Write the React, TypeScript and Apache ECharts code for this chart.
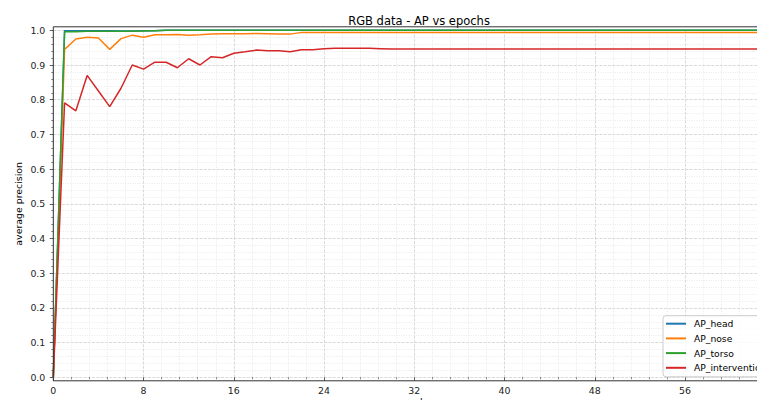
import React, { useEffect, useRef } from "react";
import * as echarts from "echarts";

const epochs: number[] = [
  0, 1, 2, 3, 4, 5, 6, 7, 8, 9, 10, 11, 12, 13, 14, 15, 16, 17, 18, 19, 20,
  21, 22, 23, 24, 25, 26, 27, 28, 29, 30, 31, 32, 33, 34, 35, 36, 37, 38, 39,
  40, 41, 42, 43, 44, 45, 46, 47, 48, 49, 50, 51, 52, 53, 54, 55, 56, 57, 58,
  59, 60, 61, 62, 63, 64,
];

const xTickLabels: string[] = ["0", "8", "16", "24", "32", "40", "48", "56"];

const apHead: number[] = [
  0, 0.999, 0.999, 0.999, 0.999, 0.999, 0.998, 0.998, 0.999, 0.999, 1.0,
  1.0, 1.0, 1.0, 1.0, 1.0, 1.0, 1.0, 1.0, 1.0, 1.0,
  1.0, 1.0, 1.0, 1.0, 1.0, 1.0, 1.0, 1.0, 1.0, 1.0,
  1.0, 1.0, 1.0, 1.0, 1.0, 1.0, 1.0, 1.0, 1.0, 1.0,
  1.0, 1.0, 1.0, 1.0, 1.0, 1.0, 1.0, 1.0, 1.0, 1.0,
  1.0, 1.0, 1.0, 1.0, 1.0, 1.0, 1.0, 1.0, 1.0, 1.0,
  1.0, 1.0, 1.0, 1.0,
];

const apNose: number[] = [
  0, 0.945, 0.975, 0.98, 0.978, 0.945, 0.976, 0.986, 0.98, 0.987, 0.987,
  0.988, 0.986, 0.987, 0.989, 0.99, 0.99, 0.99, 0.991, 0.99, 0.989,
  0.989, 0.994, 0.994, 0.994, 0.994, 0.994, 0.994, 0.994, 0.994, 0.994,
  0.994, 0.994, 0.994, 0.994, 0.994, 0.994, 0.994, 0.994, 0.994, 0.994,
  0.994, 0.994, 0.994, 0.994, 0.994, 0.994, 0.994, 0.994, 0.994, 0.994,
  0.994, 0.994, 0.994, 0.994, 0.994, 0.994, 0.994, 0.994, 0.994, 0.994,
  0.994, 0.994, 0.994, 0.994,
];

const apTorso: number[] = [
  0, 0.996, 0.996, 0.997, 0.997, 0.997, 0.997, 0.997, 0.998, 0.999, 1.0,
  1.0, 1.0, 1.0, 1.0, 1.0, 1.0, 1.0, 1.0, 1.0, 1.0,
  1.0, 1.0, 1.0, 1.0, 1.0, 1.0, 1.0, 1.0, 1.0, 1.0,
  1.0, 1.0, 1.0, 1.0, 1.0, 1.0, 1.0, 1.0, 1.0, 1.0,
  1.0, 1.0, 1.0, 1.0, 1.0, 1.0, 1.0, 1.0, 1.0, 1.0,
  1.0, 1.0, 1.0, 1.0, 1.0, 1.0, 1.0, 1.0, 1.0, 1.0,
  1.0, 1.0, 1.0, 1.0,
];

const apIntervention: number[] = [
  0, 0.791, 0.768, 0.87, 0.825, 0.78, 0.833, 0.9, 0.888, 0.908, 0.908,
  0.892, 0.918, 0.9, 0.924, 0.921, 0.934, 0.938, 0.943, 0.941, 0.941,
  0.938, 0.944, 0.944, 0.947, 0.948, 0.948, 0.948, 0.948, 0.947, 0.946,
  0.946, 0.946, 0.946, 0.946, 0.946, 0.946, 0.946, 0.946, 0.946, 0.946,
  0.946, 0.946, 0.946, 0.946, 0.946, 0.946, 0.946, 0.946, 0.946, 0.946,
  0.946, 0.946, 0.946, 0.946, 0.946, 0.946, 0.946, 0.946, 0.946, 0.946,
  0.946, 0.946, 0.946, 0.946,
];

const seriesNames = ["AP_head", "AP_nose", "AP_torso", "AP_intervention"];
const seriesColors = ["#1f77b4", "#ff7f0e", "#2ca02c", "#d62728"];
const seriesValues = [apHead, apNose, apTorso, apIntervention];

const FONT = "DejaVu Sans";

export default function App() {
  const ref = useRef<HTMLDivElement>(null);

  useEffect(() => {
    if (!ref.current) return;
    const chart = echarts.init(ref.current, null, { renderer: "svg" });

    const gridLeft = 53.3;
    const gridTop = 30.3;
    const gridBottom = 30.7;
    const gridRight = -10.3;
    const pad = 3.5;

    const majorLine = { color: "#d0d0d0", width: 0.8, type: [3, 1.3] as number[] };
    const minorLine = { color: "#e4e4e4", width: 0.8, type: [1, 1.4] as number[] };

    chart.setOption({
      animation: false,
      backgroundColor: "#ffffff",
      title: {
        text: "RGB data - AP vs epochs",
        left: 414,
        top: 10,
        textAlign: "center",
        textStyle: { fontFamily: FONT, fontSize: 11.5, fontWeight: "normal", color: "#000" },
      },
      grid: {
        left: gridLeft,
        right: gridRight,
        top: gridTop,
        bottom: gridBottom,
        containLabel: false,
        outerBoundsMode: "none",
      },
      legend: {
        orient: "vertical",
        left: 663,
        top: 315.7,
        data: seriesNames,
        icon: "rect",
        itemWidth: 20,
        itemHeight: 2,
        itemGap: 2.7,
        padding: [2, 4, 3, 3],
        backgroundColor: "rgba(255,255,255,0.8)",
        borderColor: "#cccccc",
        borderWidth: 1,
        borderRadius: 3,
        textStyle: { fontFamily: FONT, fontSize: 9.2, color: "#000", lineHeight: 12, padding: [0, 0, 0, 3] },
      },
      xAxis: {
        type: "value",
        min: 0,
        max: 64,
        interval: 8,
        offset: pad,
        axisLine: { show: false },
        axisTick: { show: true, length: 3.5, lineStyle: { color: "#333", width: 0.8 } },
        minorTick: { show: true, splitNumber: 5, length: 2, lineStyle: { color: "#333", width: 0.6 } },
        axisLabel: {
          fontFamily: FONT,
          fontSize: 9.4,
          color: "#222",
          margin: 5,
          formatter: (v: number) => xTickLabels[Math.round(v / 8)] ?? "",
        },
        splitLine: { show: true, lineStyle: majorLine },
        minorSplitLine: { show: true, lineStyle: minorLine },
      },
      yAxis: {
        type: "value",
        min: 0,
        max: 1,
        interval: 0.1,
        name: "average precision",
        nameLocation: "middle",
        nameGap: 30,
        nameMoveOverlap: false,
        nameTextStyle: { fontFamily: FONT, fontSize: 9.4, color: "#000" },
        axisLine: { show: false },
        axisTick: { show: true, length: 3.5, lineStyle: { color: "#333", width: 0.8 } },
        minorTick: { show: true, splitNumber: 5, length: 2, lineStyle: { color: "#333", width: 0.6 } },
        axisLabel: {
          fontFamily: FONT,
          fontSize: 9.4,
          color: "#222",
          margin: 8,
          formatter: (v: number) => v.toFixed(1),
        },
        splitLine: { show: true, lineStyle: majorLine },
        minorSplitLine: { show: true, lineStyle: minorLine },
      },
      graphic: [
        {
          type: "rect",
          z: 100,
          silent: true,
          shape: {
            x: gridLeft,
            y: gridTop - pad,
            width: 765 - gridRight - gridLeft,
            height: 408 - gridBottom - gridTop + 2 * pad,
          },
          style: { fill: "none", stroke: "#333", lineWidth: 1 },
        },
        {
          type: "text",
          z: 100,
          silent: true,
          x: 414,
          y: 401,
          style: {
            text: "epochs",
            fontFamily: FONT,
            fontSize: 9.4,
            fill: "#000",
            align: "center",
            verticalAlign: "middle",
          },
        },
      ],
      series: seriesNames.map((name, i) => ({
        name,
        type: "line",
        data: epochs.map((e, j) => [e, seriesValues[i][j]]),
        showSymbol: false,
        symbol: "none",
        clip: false,
        color: seriesColors[i],
        lineStyle: { color: seriesColors[i], width: 1.5 },
        z: 2 + i,
      })),
    });

    return () => chart.dispose();
  }, []);

  return <div ref={ref} style={{ width: 765, height: 408, margin: -8 }} />;
}
